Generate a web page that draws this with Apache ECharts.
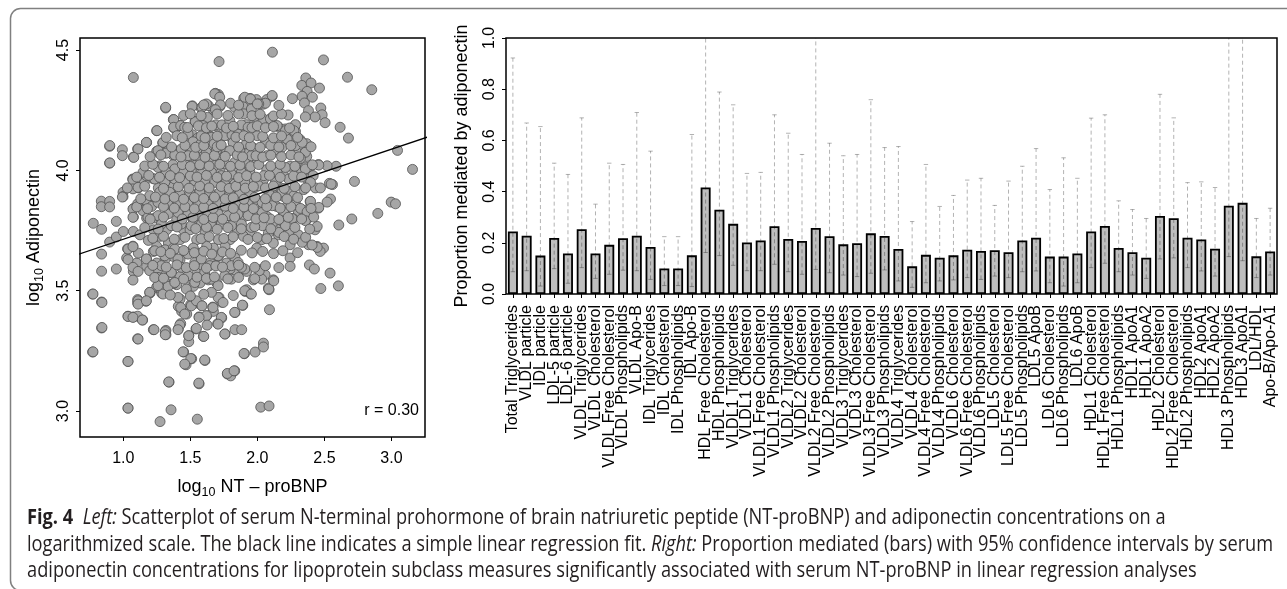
<!DOCTYPE html>
<html><head><meta charset="utf-8">
<script src="https://cdn.jsdelivr.net/npm/echarts@6/dist/echarts.min.js"></script>
<style>html,body{margin:0;padding:0;background:#fff}#c{width:1287px;height:589px}</style>
</head><body><div id="c"></div>
<script>
// ---------- Left panel: log10 NT-proBNP (x) vs log10 adiponectin (y) ----------
const points = [
[1.075,4.386],[1.714,4.452],[2.112,4.491],[2.493,4.459],[2.672,4.387],[2.853,4.335],[2.679,4.134],[2.617,4.179],[3.045,4.083],[3.157,4.004],
[2.724,3.954],[2.898,3.821],[2.998,3.868],[3.030,3.861],[2.704,3.798],[2.607,3.773],[2.545,3.881],[2.520,3.868],[2.587,4.017],[2.537,3.946],[2.560,3.941],
[2.361,4.384],[2.331,4.353],[2.400,4.363],[2.463,4.342],[2.371,4.328],[2.333,4.308],[2.410,4.304],[2.351,4.280],[2.381,4.248],[2.473,4.259],[2.483,4.231],
[2.430,4.222],[2.358,4.222],[2.505,4.198],[2.261,4.298],[2.229,4.230],[2.281,4.186],[2.284,4.162],
[2.109,4.308],[2.070,4.294],[2.045,4.275],[1.993,4.294],[1.945,4.299],[1.898,4.299],[1.920,4.272],[1.891,4.266],
[1.709,4.315],[1.687,4.320],[1.721,4.266],[1.672,4.252],[1.634,4.269],[1.580,4.259],[1.515,4.268],[1.316,4.259],[1.373,4.211],[1.535,4.204],
[1.580,4.190],[1.376,4.177],[1.249,4.165],[1.423,4.186],[1.174,4.116],[1.294,4.114],[1.249,4.079],[1.316,4.072],[1.107,4.089],[1.075,4.055],
[0.993,4.086],[0.993,4.061],[0.898,4.100],[0.898,4.030],[0.836,3.872],[0.836,3.849],[0.898,3.871],[0.898,3.848],[0.776,3.780],[0.838,3.755],
[0.948,3.788],[0.898,3.702],[0.948,3.723],[1.000,3.746],[0.838,3.652],[0.838,3.581],[0.948,3.590],[1.032,3.674],[1.072,3.685],[1.075,3.746],
[1.075,3.806],[1.075,3.841],[1.107,3.861],[1.075,3.927],[1.112,3.927],[0.998,3.909],[0.998,3.891],[1.070,3.964],[1.144,3.979],[1.157,3.954],
[1.224,3.965],[1.291,3.945],[1.308,3.993],[1.274,4.019],[1.371,4.024],[1.423,4.083],[1.368,4.065],[1.490,4.058],[1.510,4.086],[1.572,4.093],
[1.473,4.141],[1.515,4.148],[1.555,4.134],[1.642,4.100],[1.652,4.141],[1.697,4.183],[1.741,4.145],[1.794,4.141],[1.871,4.155],[1.918,4.190],
[1.975,4.222],[2.045,4.213],[2.107,4.218],[2.159,4.179],[2.208,4.172],[2.221,4.134],[2.271,4.130],[2.318,4.128],[2.368,4.111],[2.343,4.072],
[2.288,4.079],[2.368,4.058],[2.405,4.019],[2.455,4.024],[2.368,4.006],[2.318,4.010],[2.243,4.017],[2.194,3.982],[2.132,3.975],[2.070,4.003],
[2.020,4.058],[1.970,4.093],[1.920,4.072],[1.871,4.093],[1.821,4.114],[1.771,4.079],[1.709,4.058],[1.647,4.044],[1.597,4.058],[1.547,4.024],
[1.473,4.010],[1.435,3.982],[1.373,3.975],[1.373,3.933],[1.323,3.913],[1.261,3.927],[1.199,3.892],[1.174,3.871],[1.211,3.850],[1.149,3.836],
[1.174,3.802],[1.236,3.802],[1.286,3.795],[1.224,3.753],[1.124,3.732],[1.187,3.709],[1.274,3.726],[1.323,3.753],[1.336,3.698],[1.249,3.684],
[1.174,3.631],[1.224,3.663],[1.311,3.670],[1.373,3.677],[1.423,3.712],[1.448,3.753],[1.398,3.795],[1.361,3.836],[1.423,3.850],[1.473,3.823],
[1.510,3.878],[1.572,3.850],[1.560,3.906],[1.622,3.933],[1.672,3.892],[1.697,3.954],[1.721,4.003],[1.796,4.017],[1.833,3.989],[1.796,3.954],
[1.871,3.933],[1.933,3.961],[1.995,3.933],[2.045,3.961],[2.107,3.920],[2.157,3.933],[2.194,3.892],[2.244,3.913],[2.269,3.864],[2.219,3.850],
[2.306,3.823],[2.368,3.836],[2.393,3.871],[2.455,3.843],[2.368,3.795],[2.269,3.798],[2.194,3.823],[2.144,3.850],[2.095,3.878],[2.045,3.850],
[1.995,3.878],[1.945,3.892],[1.896,3.871],[1.846,3.892],[1.796,3.864],[1.734,3.850],[1.697,3.809],[1.634,3.795],[1.585,3.809],[1.522,3.795],
[1.498,3.753],[1.547,3.712],[1.610,3.739],[1.672,3.767],[1.734,3.781],[1.796,3.809],[1.846,3.823],[1.908,3.809],[1.970,3.823],[2.020,3.795],
[2.070,3.809],[2.132,3.788],[2.182,3.767],[2.244,3.746],[2.306,3.732],[2.430,3.753],[2.445,3.684],[2.493,3.677],[2.468,3.663],[2.381,3.691],
[2.244,3.691],[2.244,3.636],[2.244,3.601],[2.542,3.573],[2.604,3.520],[2.473,3.509],[2.157,3.732],[2.119,3.698],[2.082,3.739],[2.032,3.712],
[1.995,3.677],[1.945,3.739],[1.896,3.726],[1.846,3.753],[1.796,3.712],[1.759,3.684],[1.709,3.712],[1.672,3.677],[1.622,3.684],[1.572,3.656],
[1.522,3.677],[1.473,3.656],[1.423,3.629],[1.373,3.642],[1.311,3.629],[1.249,3.615],[1.299,3.587],[1.361,3.573],[1.423,3.559],[1.485,3.552],
[1.547,3.587],[1.597,3.601],[1.647,3.615],[1.709,3.642],[1.771,3.615],[1.833,3.636],[1.871,3.601],[1.920,3.580],[1.833,3.573],[1.796,3.590],
[2.020,3.587],[2.057,3.566],[2.119,3.545],[2.082,3.511],[2.032,3.548],[1.970,3.545],[1.920,3.504],[1.697,3.532],[1.634,3.545],[1.572,3.532],
[1.522,3.518],[1.398,3.525],[1.323,3.532],[1.261,3.511],[1.199,3.490],[1.174,3.601],[1.100,3.615],[1.075,3.580],[1.025,3.636],[1.112,3.656],
[0.771,3.486],[0.838,3.453],[0.838,3.345],[0.771,3.245],[1.035,3.394],[1.075,3.391],[1.107,3.394],[1.144,3.378],[1.107,3.300],[1.035,3.206],
[1.035,3.012],[1.107,3.463],[1.107,3.449],[1.169,3.456],[1.199,3.493],[1.249,3.515],[1.286,3.490],[1.311,3.518],[1.373,3.529],[1.423,3.465],
[1.410,3.435],[1.435,3.414],[1.473,3.403],[1.502,3.442],[1.542,3.449],[1.585,3.438],[1.565,3.391],[1.622,3.396],[1.667,3.432],[1.672,3.414],
[1.714,3.472],[1.734,3.452],[1.734,3.387],[1.704,3.363],[1.759,3.320],[1.833,3.409],[1.891,3.439],[1.908,3.497],[1.950,3.486],[2.087,3.504],
[2.090,3.421],[1.833,3.338],[1.883,3.338],[1.597,3.310],[1.542,3.341],[1.488,3.313],[1.488,3.288],[1.410,3.341],[1.428,3.363],[1.318,3.335],
[1.318,3.317],[1.224,3.338],[1.450,3.245],[1.468,3.192],[1.510,3.217],[1.609,3.210],[1.341,3.120],[1.565,3.113],[1.776,3.154],[1.801,3.146],
[1.831,3.167],[1.903,3.238],[1.983,3.245],[2.045,3.282],[2.045,3.266],[2.025,3.016],[2.087,3.021],[1.274,2.956],[1.356,3.005],[1.552,2.966],
[2.388,3.607],[2.425,3.590],[2.085,3.507],[2.122,3.541],[2.014,3.583],[2.446,3.680],[2.408,3.690],[2.334,3.701],
[2.550,3.943],[2.458,3.846],[2.396,3.871],[2.433,3.927],[2.470,3.927],[2.520,4.019],[2.458,4.022],[2.371,3.964],[2.358,4.014],[2.110,4.311],
[2.060,4.279],[2.010,4.276],[2.284,4.190],[2.272,4.165],[2.284,4.103],[2.334,4.116],[2.358,4.075],[2.321,4.050],[2.358,4.006],[2.416,3.978],
[2.396,3.950],[2.346,3.920],[2.272,3.895],[2.284,3.860],[2.321,3.842],[2.371,3.828],[2.259,3.800],[2.197,3.825],[2.179,3.791],[2.209,3.770],
[2.358,3.791],[2.446,3.767],[2.234,3.964],[2.184,3.909],[2.134,3.950],[2.147,3.992],[2.209,4.012],[2.184,4.096],[2.122,4.082],[2.147,4.124],
[2.222,4.130],[2.209,4.165],[2.147,4.186],[2.097,4.214],[1.998,4.144],[2.060,4.116],[2.072,4.061],[1.998,4.033],[2.048,3.978],[2.010,3.936],
[2.085,3.909],[2.035,3.867],[2.110,3.853],[2.035,3.825],[2.097,3.798],[2.037,3.770],[2.160,3.742],
[1.316,4.262],[1.513,4.266],[1.587,4.262],[1.620,4.276],[1.682,4.318],[1.719,4.304],[1.724,4.272],[1.687,4.252],[1.627,4.220],[1.537,4.202],
[1.595,4.186],[1.689,4.189],[1.736,4.189],[1.794,4.207],[1.376,4.211],[1.376,4.179],[1.428,4.186],[1.458,4.179],[1.251,4.165],[1.172,4.116],
[1.296,4.116],[1.259,4.082],[1.321,4.072],[1.384,4.064],[1.433,4.089],[0.899,4.103],[0.899,4.031],[1.110,4.089],[1.078,4.054],[1.483,4.151],
[1.520,4.119],[1.578,4.110],[1.657,4.137],[1.677,4.110],[1.757,4.144],[1.811,4.147],[1.856,4.151],[1.906,4.304],[1.948,4.297],[1.831,4.262],
[1.899,4.235],[1.955,4.255],[1.881,4.189],[1.931,4.179],[1.918,4.110],[1.819,4.116],[1.869,4.082],[1.794,4.082],[1.736,4.054],[1.694,4.082],
[1.620,4.075],[1.557,4.044],[1.483,4.061],[1.533,4.020],[1.607,4.027],[1.682,4.020],[1.757,4.027],[1.831,4.033],[1.906,4.033],[1.955,4.061],
[1.943,3.999],[1.881,3.992],[1.806,3.985],[1.731,3.978],[1.657,3.992],[1.582,3.985],[1.507,3.999],[1.446,3.992],[1.384,4.006],[1.321,3.992],
[1.259,4.012],[1.172,3.978],[1.147,3.992],[1.072,3.961],[1.072,3.923],[1.110,3.929],[1.234,3.964],[1.309,3.950],[1.384,3.964],[1.458,3.950],
[1.533,3.957],[1.607,3.950],[1.682,3.950],[1.757,3.943],[1.831,3.943],[1.906,3.950],[1.943,3.909],[1.869,3.902],[1.794,3.902],[1.719,3.909],
[1.645,3.909],[1.570,3.909],[1.496,3.909],[1.421,3.902],[1.346,3.909],[1.272,3.909],[1.197,3.895],[1.259,3.867],[1.334,3.860],[1.408,3.867],
[1.483,3.860],[1.557,3.867],[1.632,3.860],[1.707,3.867],[1.781,3.860],[1.856,3.867],[1.931,3.860],[0.993,3.889],[1.072,3.839],[1.147,3.832],
[1.072,3.805],[1.184,3.805],[1.259,3.812],[1.334,3.819],[1.408,3.825],[1.483,3.819],[1.557,3.812],[1.632,3.812],[1.707,3.819],[1.781,3.812],
[1.856,3.819],[1.931,3.812],[1.284,3.777],[1.358,3.770],[1.433,3.777],[1.507,3.770],[1.582,3.777],[1.657,3.770],[1.731,3.777],[1.806,3.770],
[1.881,3.777],[1.955,3.763],
[1.035,3.629],[1.035,3.673],[1.072,3.683],[1.172,3.632],[1.072,3.597],[1.110,3.580],[1.072,3.544],[1.197,3.583],[1.259,3.590],[1.259,3.555],
[1.197,3.493],[1.110,3.458],[1.110,3.444],[1.172,3.458],[1.272,3.513],[1.296,3.486],[1.334,3.518],[1.384,3.534],[1.408,3.472],[1.428,3.430],
[1.458,3.403],[1.507,3.437],[1.545,3.458],[1.587,3.437],[1.620,3.396],[1.669,3.430],[1.707,3.472],[1.744,3.451],[1.731,3.389],[1.707,3.361],
[1.757,3.320],[1.831,3.410],[1.888,3.440],[1.421,3.357],[1.408,3.338],[1.488,3.313],[1.545,3.343],[1.565,3.389],[1.625,3.357],[1.600,3.310],
[1.229,3.338],[1.313,3.330],[1.313,3.317],[1.110,3.299],[1.035,3.393],[1.072,3.389],[1.142,3.378],[0.841,3.347],[0.774,3.246],[1.035,3.206],
[0.774,3.486],[0.841,3.451],[1.446,3.246],[1.503,3.218],[1.458,3.195],[1.607,3.212],[1.339,3.121],[1.563,3.116],[1.776,3.156],[1.826,3.167],
[1.900,3.239],[1.035,3.012],
[1.234,3.666],[1.309,3.645],[1.384,3.673],[1.408,3.632],[1.483,3.652],[1.533,3.617],[1.582,3.632],[1.645,3.604],[1.707,3.645],[1.757,3.590],
[1.806,3.604],[1.856,3.617],[1.906,3.590],[1.284,3.604],[1.358,3.576],[1.433,3.597],[1.483,3.562],[1.533,3.534],[1.607,3.576],[1.657,3.548],
[1.707,3.521],[1.757,3.562],[1.806,3.548],[1.259,3.521],[1.234,3.555],[1.657,3.493],[1.470,3.507],[1.906,3.500],[1.955,3.486],[1.881,3.597],
// dense core, second pass
[1.22,3.605],[1.32,3.598],[1.40,3.607],[1.47,3.596],[1.53,3.604],[1.62,3.594],[1.69,3.603],[1.74,3.598],[1.86,3.606],[1.98,3.597],[2.06,3.604],[2.16,3.596],
[1.28,3.662],[1.35,3.655],[1.45,3.667],[1.53,3.658],[1.60,3.664],[1.66,3.652],[1.74,3.661],[1.80,3.655],[1.88,3.668],[1.96,3.657],[2.04,3.663],[2.12,3.654],[2.19,3.666],[2.30,3.658],
[1.22,3.718],[1.30,3.726],[1.38,3.714],[1.46,3.722],[1.58,3.716],[1.64,3.725],[1.75,3.717],[1.82,3.724],[1.93,3.713],[2.00,3.721],[2.07,3.716],[2.20,3.725],[2.27,3.714],[2.36,3.722],
[1.16,3.762],[1.26,3.756],[1.40,3.765],[1.54,3.758],[1.62,3.764],[1.70,3.755],[1.78,3.762],[1.88,3.757],[1.98,3.766],[2.10,3.757],[2.28,3.763],[2.39,3.756],
[1.20,3.797],[1.30,3.806],[1.44,3.798],[1.52,3.805],[1.60,3.796],[1.67,3.804],[1.74,3.797],[1.83,3.806],[1.99,3.798],[2.05,3.803],[2.16,3.796],[2.23,3.805],[2.33,3.798],[2.42,3.806],
[1.10,3.848],[1.18,3.841],[1.30,3.850],[1.38,3.843],[1.46,3.849],[1.53,3.840],[1.60,3.847],[1.67,3.842],[1.76,3.851],[1.82,3.842],[1.90,3.848],[1.97,3.841],[2.07,3.850],[2.17,3.843],[2.25,3.849],[2.40,3.842],
[1.13,3.882],[1.24,3.889],[1.31,3.881],[1.38,3.888],[1.45,3.880],[1.53,3.887],[1.60,3.883],[1.68,3.889],[1.76,3.881],[1.82,3.886],[1.90,3.880],[1.98,3.888],[2.06,3.882],[2.14,3.889],[2.22,3.881],[2.30,3.887],
[1.03,3.927],[1.16,3.934],[1.30,3.925],[1.41,3.932],[1.49,3.926],[1.57,3.935],[1.64,3.927],[1.73,3.933],[1.79,3.925],[1.84,3.934],[1.91,3.926],[1.97,3.933],[2.06,3.927],[2.12,3.935],[2.20,3.925],[2.28,3.932],[2.36,3.927],
[1.10,3.972],[1.19,3.979],[1.27,3.971],[1.35,3.978],[1.42,3.970],[1.50,3.977],[1.55,3.972],[1.62,3.979],[1.70,3.971],[1.77,3.976],[1.86,3.970],[1.92,3.978],[1.99,3.972],[2.09,3.979],[2.17,3.971],[2.27,3.977],[2.33,3.972],
[1.16,4.018],[1.22,4.025],[1.30,4.017],[1.44,4.024],[1.50,4.016],[1.57,4.023],[1.64,4.018],[1.72,4.025],[1.80,4.017],[1.87,4.022],[1.95,4.016],[2.01,4.024],[2.10,4.018],[2.17,4.025],[2.28,4.017],[2.41,4.023],
[1.20,4.057],[1.28,4.064],[1.43,4.056],[1.53,4.063],[1.61,4.055],[1.68,4.062],[1.76,4.058],[1.85,4.064],[1.89,4.056],[1.99,4.061],[2.04,4.055],[2.10,4.063],[2.18,4.057],[2.25,4.064],[2.31,4.056],
[1.36,4.097],[1.46,4.104],[1.54,4.096],[1.60,4.103],[1.70,4.098],[1.73,4.105],[1.86,4.097],[1.95,4.102],[2.02,4.096],[2.10,4.104],[2.16,4.097],[2.25,4.103],[2.40,4.098],
[1.32,4.137],[1.40,4.144],[1.44,4.136],[1.58,4.143],[1.61,4.135],[1.70,4.142],[1.84,4.138],[1.90,4.144],[1.94,4.136],[2.04,4.141],[2.12,4.135],[2.18,4.143],[2.30,4.137],
[1.48,4.178],[1.56,4.185],[1.62,4.177],[1.66,4.184],[1.77,4.176],[1.82,4.183],[1.96,4.178],[2.00,4.185],[2.06,4.177],[2.12,4.182],[2.24,4.176],
[1.45,4.228],[1.50,4.235],[1.58,4.227],[1.70,4.234],[1.78,4.228],[1.86,4.235],[1.96,4.227],[2.02,4.233],[2.12,4.226],[2.18,4.234],
[1.60,4.272],[1.80,4.279],[1.86,4.271],[2.00,4.276],[2.16,4.270],
[1.30,3.552],[1.45,3.548],[1.55,3.556],[1.62,3.551],[1.68,3.557],[1.78,3.549],[1.86,3.555],[1.98,3.550],
[1.35,3.482],[1.50,3.478],[1.60,3.485],[1.82,3.480]
];
const fitX = [0.6, 3.3];          // simple linear regression fit, end points
const fitY = [3.639, 4.144];
const scatterXTicks = [1.0, 1.5, 2.0, 2.5, 3.0];
const scatterYTicks = [3.0, 3.5, 4.0, 4.5];
const correlationText = 'r = 0.30';

// ---------- Right panel: proportion mediated by adiponectin ----------
const categories = [
'Total Triglycerides','VLDL particle','IDL particle','LDL-5 particle','LDL-6 particle','VLDL Triglycerides','VLDL Cholesterol',
'VLDL Free Cholesterol','VLDL Phospholipids','VLDL Apo-B','IDL Triglycerides','IDL Cholesterol','IDL Phospholipids','IDL Apo-B',
'HDL Free Cholesterol','HDL Phospholipids','VLDL1 Triglycerides','VLDL1 Cholesterol','VLDL1 Free Cholesterol','VLDL1 Phospholipids',
'VLDL2 Triglycerides','VLDL2 Cholesterol','VLDL2 Free Cholesterol','VLDL2 Phospholipids','VLDL3 Triglycerides','VLDL3 Cholesterol',
'VLDL3 Free Cholesterol','VLDL3 Phospholipids','VLDL4 Triglycerides','VLDL4 Cholesterol','VLDL4 Free Cholesterol','VLDL4 Phospholipids',
'VLDL6 Cholesterol','VLDL6 Free Cholesterol','VLDL6 Phospholipids','LDL5 Cholesterol','LDL5 Free Cholesterol','LDL5 Phospholipids',
'LDL5 ApoB','LDL6 Cholesterol','LDL6 Phospholipids','LDL6 ApoB','HDL1 Cholesterol','HDL1 Free Cholesterol','HDL1 Phospholipids',
'HDL1 ApoA1','HDL1 ApoA2','HDL2 Cholesterol','HDL2 Free Cholesterol','HDL2 Phospholipids','HDL2 ApoA1','HDL2 ApoA2',
'HDL3 Phospholipids','HDL3 ApoA1','LDL/HDL','Apo-B/Apo-A1'
];
const proportion = [
0.244,0.228,0.150,0.219,0.158,0.253,0.158,0.192,0.218,0.228,
0.184,0.100,0.100,0.151,0.416,0.329,0.274,0.201,0.209,0.265,
0.215,0.207,0.258,0.226,0.194,0.198,0.237,0.227,0.176,0.108,
0.153,0.142,0.151,0.173,0.168,0.171,0.163,0.209,0.220,0.146,
0.146,0.158,0.244,0.266,0.180,0.163,0.142,0.305,0.296,0.220,
0.213,0.177,0.345,0.356,0.147,0.166
];
const ciLower = [
0.087,0.091,0.031,0.099,0.042,0.103,0.061,0.077,0.093,0.091,
0.057,0.033,0.033,0.029,0.162,0.150,0.112,0.091,0.091,0.116,
0.087,0.077,0.096,0.083,0.074,0.068,0.081,0.094,0.051,0.026,
0.044,0.051,0.055,0.064,0.057,0.070,0.064,0.087,0.090,0.044,
0.031,0.044,0.103,0.120,0.087,0.074,0.061,0.137,0.141,0.103,
0.090,0.070,0.146,0.130,0.064,0.074
];
const ciUpper = [
0.922,0.668,0.654,0.511,0.467,0.688,0.351,0.511,0.506,0.709,
0.558,0.224,0.224,0.623,1.100,0.789,0.739,0.471,0.475,0.700,
0.628,0.545,1.100,0.589,0.540,0.545,0.759,0.572,0.576,0.283,
0.506,0.342,0.385,0.445,0.452,0.346,0.441,0.499,0.568,0.408,
0.532,0.452,0.687,0.700,0.364,0.330,0.295,0.780,0.688,0.435,
0.438,0.416,1.100,1.100,0.295,0.335
];

// ---------- Caption ----------
const captionLines = [
  [['b','Fig. 4'],['n','  '],['i','Left:'],['n',' Scatterplot of serum N-terminal prohormone of brain natriuretic peptide (NT-proBNP) and adiponectin concentrations on a']],
  [['n','logarithmized scale. The black line indicates a simple linear regression fit. '],['i','Right:'],['n',' Proportion mediated (bars) with 95% confidence intervals by serum']],
  [['n','adiponectin concentrations for lipoprotein subclass measures significantly associated with serum NT-proBNP in linear regression analyses']]
];
// text prefixes that end at x = 434 in the reference, used to size the caption font horizontally
const captionPrefixes = [
  [['b','Fig. 4'],['n','  '],['i','Left:'],['n',' Scatterplot of serum N-terminal proh']],
  [['n','logarithmized scale. The black line indicates a si']],
  [['n','adiponectin concentrations for lipoprotein subcl']]
];

// ---------- layout / style ----------
const FONT = '"Liberation Sans", Arial, Helvetica, sans-serif';
const CAP_FONT = '"Open Sans", "Noto Sans", sans-serif';
const CAP_SIZE = 21;
const captionLeft = 27;
const prefixRight = 434;
const captionY = [518, 545, 571];

const measureCtx = document.createElement('canvas').getContext('2d');
function lineWidth(segs) {
  let w = 0;
  segs.forEach(([k, t]) => {
    measureCtx.font = (k === 'i' ? 'italic ' : '') + (k === 'b' ? 'bold ' : '') + CAP_SIZE + 'px ' + CAP_FONT;
    w += measureCtx.measureText(t).width;
  });
  return w;
}
let sumTarget = 0, sumMeasured = 0;
captionPrefixes.forEach(segs => { sumTarget += prefixRight - captionLeft; sumMeasured += lineWidth(segs); });
const capScale = sumTarget / sumMeasured;

const capRich = {
  n: { fontSize: CAP_SIZE, fontFamily: CAP_FONT, color: '#231f20' },
  b: { fontSize: CAP_SIZE, fontFamily: CAP_FONT, fontWeight: 'bold', color: '#231f20' },
  i: { fontSize: CAP_SIZE, fontFamily: CAP_FONT, fontStyle: 'italic', color: '#231f20' }
};
const captionGraphics = captionLines.map((segs, li) => ({
  type: 'text', x: captionLeft, y: captionY[li], scaleX: capScale, silent: true,
  style: {
    text: segs.map(([k, t]) => '{' + k + '|' + t + '}').join(''),
    rich: capRich, fontSize: CAP_SIZE, fontFamily: CAP_FONT, fill: '#231f20',
    align: 'left', verticalAlign: 'middle', textAlign: 'left', textVerticalAlign: 'middle'
  }
}));

const subRich = {
  n: { fontSize: 18, fontFamily: FONT, color: '#000' },
  s: { fontSize: 12.5, fontFamily: FONT, color: '#000', padding: [11, 0, 0, 0] }
};
const tickLabel = { fontSize: 16, fontFamily: FONT, color: '#000' };

const chart = echarts.init(document.getElementById('c'), null, { renderer: 'canvas' });
chart.setOption({
  animation: false,
  backgroundColor: '#fff',
  grid: [
    { left: 80, top: 38, width: 345, height: 399, show: true, borderColor: '#000', borderWidth: 1.5, backgroundColor: 'transparent' },
    { left: 506, top: 38, width: 771, height: 256, show: true, borderColor: '#000', borderWidth: 1.5, backgroundColor: 'transparent' }
  ],
  xAxis: [
    {
      type: 'value', gridIndex: 0, min: 0.677, max: 3.25,
      axisLine: { show: false }, splitLine: { show: false },
      axisTick: { show: true, length: 4, customValues: scatterXTicks, lineStyle: { color: '#000', width: 1 } },
      axisLabel: Object.assign({ customValues: scatterXTicks, margin: 14, formatter: v => v.toFixed(1) }, tickLabel),
      name: '{n|log}{s|10}{n| NT – proBNP}', nameLocation: 'middle', nameGap: 38,
      nameTextStyle: { rich: subRich }
    },
    {
      type: 'category', gridIndex: 1, data: categories,
      axisLine: { show: false }, splitLine: { show: false },
      axisTick: { show: true, alignWithLabel: true, interval: 0, length: 4, lineStyle: { color: '#000', width: 1 } },
      axisLabel: Object.assign({ interval: 0, rotate: 90, margin: 11 }, tickLabel)
    }
  ],
  yAxis: [
    {
      type: 'value', gridIndex: 0, min: 2.892, max: 4.55,
      axisLine: { show: false }, splitLine: { show: false },
      axisTick: { show: true, length: 4, customValues: scatterYTicks, lineStyle: { color: '#000', width: 1 } },
      axisLabel: Object.assign({ customValues: scatterYTicks, rotate: 90, margin: 8, formatter: v => v.toFixed(1) }, tickLabel),
      name: '{n|log}{s|10}{n| Adiponectin}', nameLocation: 'middle', nameRotate: 90, nameGap: 34,
      nameTextStyle: { rich: subRich }
    },
    {
      type: 'value', gridIndex: 1, min: 0, max: 1, interval: 0.2,
      axisLine: { show: false }, splitLine: { show: false },
      axisTick: { show: true, length: 4, lineStyle: { color: '#000', width: 1 } },
      axisLabel: Object.assign({ rotate: 90, margin: 8, formatter: v => v.toFixed(1) }, tickLabel),
      name: 'Proportion mediated by adiponectin', nameLocation: 'middle', nameRotate: 90, nameGap: 35,
      nameTextStyle: { fontSize: 18, fontFamily: FONT, color: '#000' }
    }
  ],
  series: [
    {
      type: 'scatter', xAxisIndex: 0, yAxisIndex: 0, data: points, symbol: 'circle', symbolSize: 10,
      itemStyle: { color: '#a6a6a6', borderColor: '#505050', borderWidth: 0.8, opacity: 1 }, silent: true, z: 2,
      large: false, progressive: 0
    },
    {
      type: 'line', xAxisIndex: 0, yAxisIndex: 0, data: fitX.map((x, i) => [x, fitY[i]]), symbol: 'none', clip: true,
      lineStyle: { color: '#000', width: 1.3 }, silent: true, z: 3
    },
    {
      type: 'bar', xAxisIndex: 1, yAxisIndex: 1, data: proportion, barWidth: 10,
      itemStyle: { color: '#bebebe', borderColor: '#000', borderWidth: 1.8 }, silent: true, z: 2
    },
    {
      type: 'custom', xAxisIndex: 1, yAxisIndex: 1, clip: true, silent: true, z: 4,
      data: categories.map((c, i) => [i, ciLower[i], ciUpper[i]]),
      encode: { x: 0, y: [1, 2] },
      renderItem: (params, api) => {
        const i = api.value(0);
        const lo = api.coord([i, api.value(1)]);
        const hi = api.coord([i, api.value(2)]);
        const col = 'rgba(0,0,0,0.3)';
        const cap = 2.2;
        return {
          type: 'group', children: [
            { type: 'line', shape: { x1: lo[0], y1: lo[1], x2: hi[0], y2: hi[1] }, style: { stroke: col, lineWidth: 1, lineDash: [4, 3] } },
            { type: 'line', shape: { x1: lo[0] - cap, y1: lo[1], x2: lo[0] + cap, y2: lo[1] }, style: { stroke: col, lineWidth: 1 } },
            { type: 'line', shape: { x1: hi[0] - cap, y1: hi[1], x2: hi[0] + cap, y2: hi[1] }, style: { stroke: col, lineWidth: 1 } }
          ]
        };
      }
    }
  ],
  graphic: [
    { type: 'rect', silent: true, z: -10, shape: { x: 10.5, y: 8.5, width: 1300, height: 582, r: 10 },
      style: { fill: 'none', stroke: '#808080', lineWidth: 1.5 } },
    { type: 'text', silent: true, x: 419, y: 411,
      style: { text: correlationText, fontSize: 16, fontFamily: FONT, fill: '#000', align: 'right', verticalAlign: 'middle', textAlign: 'right', textVerticalAlign: 'middle' } }
  ].concat(captionGraphics)
});
</script>
</body></html>
